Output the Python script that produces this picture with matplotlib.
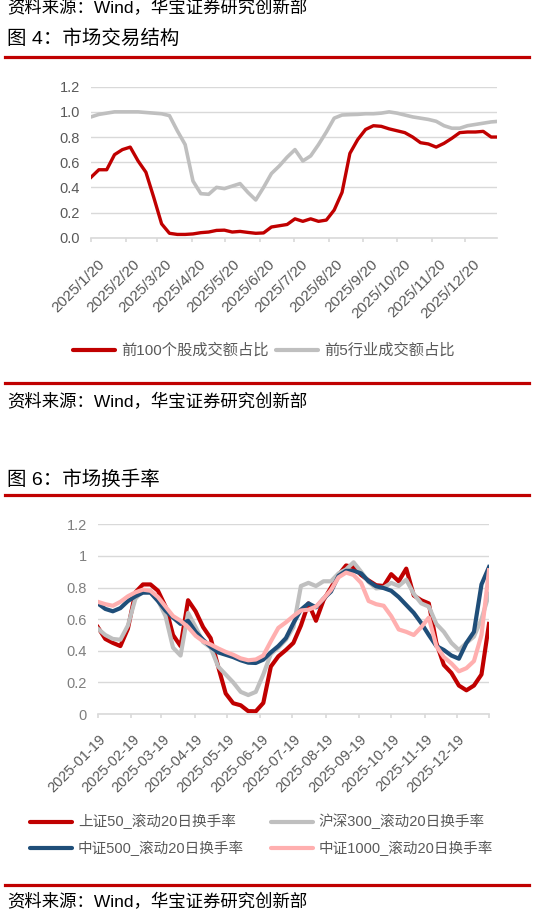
import numpy as np
import pandas as pd
import matplotlib
matplotlib.use('Agg')
import matplotlib.pyplot as plt
import matplotlib.dates as mdates
from matplotlib.lines import Line2D
from matplotlib.ticker import FuncFormatter, FixedLocator, MultipleLocator
from matplotlib.transforms import ScaledTranslation

plt.rcParams['font.family'] = ['Liberation Sans', 'Noto Sans CJK SC']

# ---------------- 图4: 市场交易结构 (weekly samples)
dates_4 = pd.date_range('2025-01-20', periods=53, freq='7D')
top100_share = [0.48, 0.54, 0.54, 0.66, 0.70, 0.72, 0.61, 0.52, 0.32, 0.11,
                0.035, 0.026, 0.026, 0.03, 0.04, 0.045, 0.058, 0.06, 0.045, 0.05,
                0.042, 0.035, 0.038, 0.085, 0.095, 0.105, 0.15, 0.13, 0.15, 0.13,
                0.14, 0.22, 0.36, 0.67, 0.78, 0.86, 0.89, 0.885, 0.865, 0.85,
                0.835, 0.80, 0.755, 0.745, 0.72, 0.75, 0.79, 0.835, 0.84, 0.84,
                0.845, 0.80, 0.80]
top5_ind_share = [0.96, 0.98, 0.99, 1.0, 1.0, 1.0, 1.0, 0.995, 0.99, 0.985,
                  0.97, 0.85, 0.74, 0.45, 0.35, 0.345, 0.40, 0.39, 0.41, 0.43,
                  0.36, 0.30, 0.40, 0.51, 0.57, 0.64, 0.70, 0.61, 0.65, 0.74,
                  0.84, 0.95, 0.975, 0.978, 0.98, 0.985, 0.985, 0.99, 1.0, 0.99,
                  0.975, 0.96, 0.95, 0.94, 0.925, 0.89, 0.87, 0.87, 0.89, 0.90,
                  0.91, 0.92, 0.925]
labels_4 = ['前100个股成交额占比', '前5行业成交额占比']

# ---------------- 图6: 市场换手率
dates_6 = pd.date_range('2025-01-19', periods=53, freq='7D')
sz50 = [0.55, 0.475, 0.45, 0.43, 0.54, 0.77, 0.82, 0.82, 0.78, 0.68,
        0.50, 0.43, 0.72, 0.65, 0.55, 0.48, 0.30, 0.13, 0.068, 0.055,
        0.018, 0.017, 0.07, 0.30, 0.365, 0.405, 0.45, 0.56, 0.70, 0.59,
        0.72, 0.80, 0.88, 0.94, 0.93, 0.88, 0.845, 0.815, 0.81, 0.885,
        0.84, 0.92, 0.75, 0.72, 0.70, 0.45, 0.31, 0.26, 0.18, 0.15,
        0.18, 0.25, 0.57]
hs300 = [0.54, 0.50, 0.475, 0.47, 0.56, 0.73, 0.78, 0.78, 0.72, 0.62,
         0.42, 0.37, 0.64, 0.55, 0.455, 0.42, 0.30, 0.25, 0.20, 0.14,
         0.12, 0.14, 0.25, 0.38, 0.42, 0.47, 0.55, 0.81, 0.83, 0.81,
         0.84, 0.84, 0.89, 0.915, 0.96, 0.90, 0.835, 0.795, 0.80, 0.83,
         0.81, 0.85, 0.76, 0.70, 0.68, 0.57, 0.52, 0.45, 0.405, 0.45,
         0.49, 0.60, 0.76]
zz500 = [0.70, 0.665, 0.65, 0.67, 0.715, 0.745, 0.768, 0.768, 0.715, 0.655,
         0.61, 0.57, 0.59, 0.52, 0.47, 0.425, 0.39, 0.375, 0.36, 0.34,
         0.325, 0.323, 0.344, 0.39, 0.43, 0.48, 0.575, 0.66, 0.70, 0.675,
         0.73, 0.775, 0.875, 0.906, 0.906, 0.89, 0.84, 0.808, 0.797, 0.78,
         0.74, 0.69, 0.64, 0.575, 0.50, 0.43, 0.405, 0.37, 0.35, 0.45,
         0.52, 0.82, 0.93]
zz1000 = [0.71, 0.695, 0.685, 0.71, 0.745, 0.77, 0.787, 0.78, 0.74, 0.68,
          0.62, 0.59, 0.55, 0.495, 0.46, 0.44, 0.415, 0.393, 0.375, 0.352,
          0.34, 0.345, 0.37, 0.46, 0.545, 0.58, 0.62, 0.655, 0.66, 0.68,
          0.73, 0.785, 0.865, 0.895, 0.88, 0.83, 0.715, 0.695, 0.685, 0.62,
          0.535, 0.52, 0.50, 0.55, 0.61, 0.43, 0.36, 0.32, 0.27, 0.29,
          0.335, 0.50, 0.91]
labels_6 = ['上证50_滚动20日换手率', '沪深300_滚动20日换手率',
            '中证500_滚动20日换手率', '中证1000_滚动20日换手率']

RED = '#C00000'
GREY = '#BFBFBF'
BLUE = '#1F4E79'
PINK = '#FFAFAF'
GRID = '#D9D9D9'
TXT = '#595959'

W, H = 534, 917
fig = plt.figure(figsize=(W / 100, H / 100), dpi=100)


def fx(x):
    return x / W


def fy(y):
    return 1 - y / H


def rule(y):
    fig.add_artist(Line2D([fx(5), fx(529)], [fy(y), fy(y)], color=RED, lw=2.3))


def legend_item(x, y, color, label, size):
    fig.add_artist(Line2D([fx(x), fx(x + 42)], [fy(y), fy(y)], color=color,
                          lw=3, solid_capstyle='round'))
    fig.text(fx(x + 48), fy(y), label, fontsize=size, color=TXT,
             ha='left', va='center')


def style_axes(ax, ylab_color, xsize):
    for s in ('top', 'left', 'right'):
        ax.spines[s].set_visible(False)
    ax.spines['bottom'].set_color(GRID)
    ax.spines['bottom'].set_linewidth(1.2)
    ax.set_ylim(0, 1.2)
    ax.yaxis.set_major_locator(MultipleLocator(0.2))
    ax.grid(axis='y', color=GRID, lw=1)
    ax.set_axisbelow(True)
    ax.tick_params(axis='y', length=0, pad=8, labelsize=10.5, labelcolor=ylab_color)
    ax.tick_params(axis='x', which='both', length=3, width=1.2, color=GRID,
                   pad=3, labelsize=xsize, labelcolor=TXT)


def slant_labels(ax, dx, dy):
    # rotate date labels 45 degrees and nudge them like the original chart
    shift = ScaledTranslation(dx / 100, -dy / 100, fig.dpi_scale_trans)
    for lab in ax.get_xticklabels():
        lab.set_rotation(45)
        lab.set_ha('right')
        lab.set_va('top')
        lab.set_rotation_mode('anchor')
        lab.set_transform(lab.get_transform() + shift)


src = '资料来源：Wind，华宝证券研究创新部'

# top (cropped) source line and figure 4 header
fig.text(fx(7), fy(8), src, fontsize=12.5, color='#000000', ha='left', va='center')
fig.text(fx(7), fy(39), '图 4：市场交易结构', fontsize=14, color='#000000',
         ha='left', va='center')
rule(56.5)

ax1 = fig.add_axes([fx(91), fy(237.7), (496.7 - 91) / W, (237.7 - 86.7) / H])
ax1.plot(dates_4, top5_ind_share, color=GREY, lw=2.6, solid_joinstyle='round')
ax1.plot(dates_4, top100_share, color=RED, lw=2.4, solid_joinstyle='round')
style_axes(ax1, TXT, 11)
ax1.set_xlim(pd.Timestamp('2025-01-20'), pd.Timestamp('2026-01-17'))
ax1.xaxis.set_major_locator(mdates.MonthLocator(bymonthday=20))
ax1.xaxis.set_major_formatter(FuncFormatter(
    lambda v, p: '{0.year}/{0.month}/{0.day}'.format(mdates.num2date(v))))
ax1.yaxis.set_major_formatter(FuncFormatter(lambda v, p: f'{v:.1f}'))
slant_labels(ax1, 7, 11)

legend_item(73, 350, RED, labels_4[0], 11)
legend_item(276, 350, GREY, labels_4[1], 11)

rule(383.3)
fig.text(fx(7), fy(402), src, fontsize=12.5, color='#000000', ha='left', va='center')

# figure 6
fig.text(fx(7), fy(480), '图 6：市场换手率', fontsize=14, color='#000000',
         ha='left', va='center')
rule(495)

ax2 = fig.add_axes([fx(97.8), fy(714), (489 - 97.8) / W, (714 - 524.4) / H])
for vals, col in zip([sz50, hs300, zz500, zz1000], [RED, GREY, BLUE, PINK]):
    ax2.plot(dates_6, vals, color=col, lw=3, solid_joinstyle='round')
style_axes(ax2, '#7F7F7F', 10.5)
x_end = pd.Timestamp('2026-01-18')
ax2.set_xlim(pd.Timestamp('2025-01-19'), x_end)
ax2.xaxis.set_major_locator(mdates.MonthLocator(bymonthday=19))
ax2.xaxis.set_major_formatter(mdates.DateFormatter('%Y-%m-%d'))
ax2.xaxis.set_minor_locator(FixedLocator([mdates.date2num(x_end)]))
ax2.yaxis.set_major_formatter(FuncFormatter(lambda v, p: f'{v:g}'))
slant_labels(ax2, 1, 10)

legend_item(30, 821.7, RED, labels_6[0], 10.5)
legend_item(270.8, 821.7, GREY, labels_6[1], 10.5)
legend_item(30, 848.3, BLUE, labels_6[2], 10.5)
legend_item(270.8, 848.3, PINK, labels_6[3], 10.5)

rule(885)
fig.text(fx(7), fy(902), src, fontsize=12.5, color='#000000', ha='left', va='center')

fig.savefig('out.png', dpi=100)
